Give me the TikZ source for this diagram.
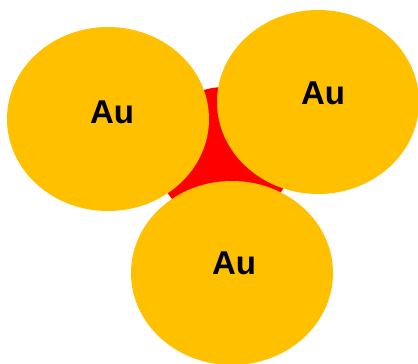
\documentclass[tikz,border=0pt]{standalone}
\usepackage{fontspec}
\setmainfont{Liberation Sans}
\usetikzlibrary{shapes.geometric}
\definecolor{gold}{HTML}{FFC000}
\definecolor{core}{HTML}{FF0000}
\tikzset{
  atom/.style={ellipse, fill=gold, draw=none, minimum width=202pt, minimum height=184pt, inner sep=0pt, outer sep=0pt},
  label/.style={font=\fontsize{33}{36}\selectfont\bfseries, text=black, inner sep=0pt}
}
\begin{document}
\begin{tikzpicture}[x=1pt,y=-1pt]
\useasboundingbox (0,0) rectangle (418,364);
\fill[core] (224,155) circle[radius=68];
\node[atom] (a1) at (108,119) {};
\node[atom] (a2) at (318,102) {};
\node[atom] (a3) at (232,273) {};
\node[label] (t1) at (112,112) {Au};
\node[label] (t2) at (323,93) {Au};
\node[label] (t3) at (234,263) {Au};
\end{tikzpicture}
\end{document}
